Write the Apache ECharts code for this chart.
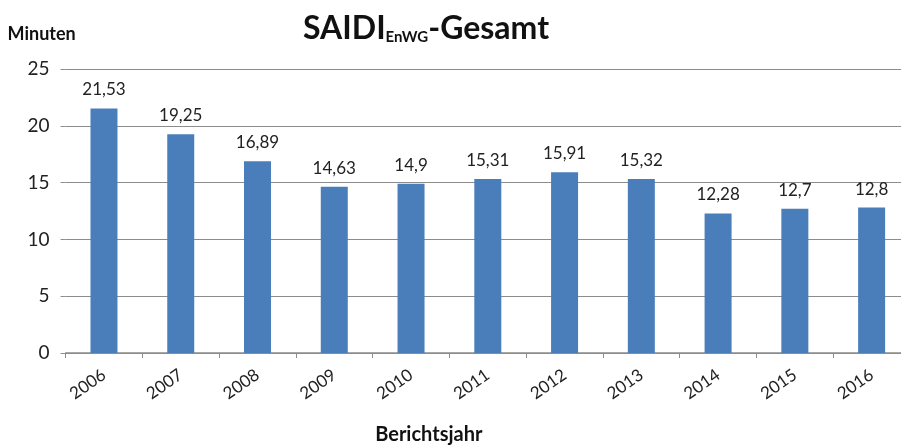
<!DOCTYPE html>
<html>
<head>
<meta charset="utf-8">
<title>SAIDI</title>
<script src="https://cdn.jsdelivr.net/npm/echarts@6/dist/echarts.min.js"></script>
<style>
  html, body { margin: 0; padding: 0; background: #fff; }
  #main { width: 901px; height: 448px; }
</style>
</head>
<body>
<div id="main"></div>
<script type="text/javascript">
// Berichtsjahre und SAIDI-Werte (Minuten)
var years = ['2006', '2007', '2008', '2009', '2010', '2011', '2012', '2013', '2014', '2015', '2016'];
var saidi = [21.53, 19.25, 16.89, 14.63, 14.9, 15.31, 15.91, 15.32, 12.28, 12.7, 12.8];
var yTicks = [0, 5, 10, 15, 20, 25];

var font = 'Lato, "Open Sans", sans-serif';
var chart = echarts.init(document.getElementById('main'));

chart.setOption({
  animation: false,
  title: {
    text: '{m|SAIDI}{s|EnWG}{m|-Gesamt}',
    left: 298,
    top: 8,
    textStyle: {
      rich: {
        m: { fontFamily: font, fontWeight: 'bold', fontSize: 32, color: '#111' },
        s: { fontFamily: font, fontWeight: 'bold', fontSize: 15, color: '#111', padding: [16, 0, 0, 0] }
      }
    }
  },
  // Plotfläche läuft rechts über den Bildrand hinaus
  grid: { left: 65.6, right: -9, top: 69, bottom: 95, outerBoundsMode: 'none', containLabel: false },
  xAxis: {
    type: 'category',
    data: years,
    name: 'Berichtsjahr',
    nameLocation: 'middle',
    nameGap: 72,
    nameTextStyle: { fontFamily: font, fontWeight: 'bold', fontSize: 20, color: '#111', padding: [0, 118, 0, 0] },
    axisLine: { lineStyle: { color: '#8c8c8c', width: 1.5 } },
    axisTick: { show: true, length: 5, lineStyle: { color: '#8c8c8c' } },
    axisLabel: { rotate: 35, fontFamily: font, fontSize: 17, color: '#222', margin: 20 }
  },
  yAxis: {
    type: 'value',
    min: 0,
    max: 25,
    interval: 5,
    name: 'Minuten',
    nameLocation: 'end',
    nameGap: 26,
    nameTextStyle: { fontFamily: font, fontWeight: 'bold', fontSize: 18, color: '#111', align: 'left', padding: [0, 0, 0, -58] },
    axisLine: { show: false },
    axisTick: { show: true, length: 5, lineStyle: { color: '#8c8c8c' } },
    splitLine: { lineStyle: { color: '#8c8c8c', width: 1.2 } },
    axisLabel: {
      fontFamily: font, fontSize: 19, color: '#222', margin: 16,
      formatter: function (v) { return yTicks.indexOf(v) >= 0 ? String(v) : ''; }
    }
  },
  series: [{
    type: 'bar',
    data: saidi,
    barWidth: 27,
    itemStyle: { color: '#4a7ebb' },
    label: {
      show: true,
      position: 'top',
      distance: 10,
      fontFamily: font,
      fontSize: 17,
      color: '#222',
      formatter: function (p) { return String(p.value).replace('.', ','); }
    }
  }]
});
</script>
</body>
</html>
